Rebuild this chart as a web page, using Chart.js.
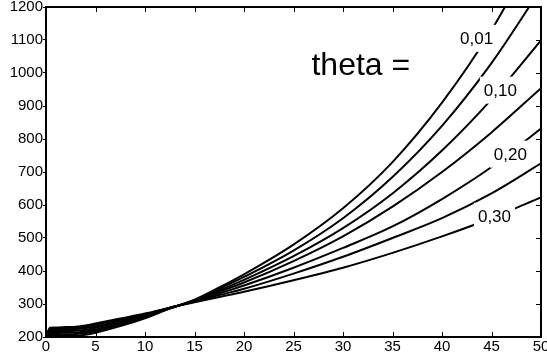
<!DOCTYPE html>
<html>
<head>
<meta charset="utf-8">
<style>
  html, body { margin: 0; padding: 0; background: #fff; }
  #wrap { width: 547px; height: 360px; }
</style>
</head>
<body>
<div id="wrap"><canvas id="myChart" width="547" height="360"></canvas></div>
<script src="https://cdn.jsdelivr.net/npm/chart.js@4.4.1/dist/chart.umd.min.js"></script>
<script>
// sample positions along x, shared by every curve
var xValues = [0, 0.4, 1, 2, 3, 4, 5, 7.5, 10, 12.5, 15, 17.5, 20, 25, 30, 35, 40, 45, 50];

// one curve per theta
var theta001 = [200, 203, 203, 203, 204, 207, 213, 233, 257, 286, 313, 350, 390, 480, 590, 730, 910, 1130, 1400];
var theta005 = [200, 207, 207, 208, 209, 212, 218, 237, 259, 287, 312, 346, 382, 462, 560, 685, 840, 1030, 1255];
var theta010 = [200, 212, 212, 213, 214, 217, 223, 241, 262, 287, 310, 341, 373, 445, 530, 635, 765, 920, 1099];
var theta015 = [200, 216, 216, 217, 219, 222, 228, 245, 264, 288, 309, 337, 365, 430, 505, 595, 700, 820, 954];
var theta020 = [200, 220, 220, 221, 223, 227, 232, 249, 266, 288, 308, 332, 356, 410, 470, 535, 618, 715, 832];
var theta025 = [200, 224, 224, 225, 227, 231, 237, 253, 269, 289, 307, 327, 346, 392, 443, 500, 560, 635, 726];
var theta030 = [200, 228, 229, 230, 231, 235, 241, 256, 271, 289, 305, 321, 337, 372, 410, 455, 505, 560, 623];

var thetaNames = ['0,01', '0,05', '0,10', '0,15', '0,20', '0,25', '0,30'];
var xTicks = [0, 5, 10, 15, 20, 25, 30, 35, 40, 45, 50];
var yTicks = [200, 300, 400, 500, 600, 700, 800, 900, 1000, 1100, 1200];

var FONT = '"Liberation Sans", Arial, Helvetica, sans-serif';

function toPoints(ys) {
  return xValues.map(function(x, i) { return { x: x, y: ys[i] }; });
}

// inline contour labels, with a white patch that breaks the line under the text
var curveLabels = {
  id: 'curveLabels',
  afterDatasetsDraw: function(chart, args, opts) {
    var ctx = chart.ctx;
    var xs = chart.scales.x, ys = chart.scales.y;
    ctx.save();
    ctx.textAlign = 'center';
    ctx.textBaseline = 'middle';
    opts.items.forEach(function(it) {
      ctx.font = it.size + 'px ' + FONT;
      var px = xs.getPixelForValue(it.x);
      var py = ys.getPixelForValue(it.y);
      var w = ctx.measureText(it.text).width;
      if (it.patch) {
        ctx.fillStyle = '#fff';
        ctx.fillRect(px - w / 2 - 4, py - it.size / 2 - 5, w + 8, it.size + 10);
      }
      ctx.fillStyle = '#000';
      ctx.fillText(it.text, px, py + 1);
    });
    ctx.restore();
  }
};

// top/right box edges and inward tick marks
var boxFrame = {
  id: 'boxFrame',
  afterDraw: function(chart) {
    var ctx = chart.ctx, a = chart.chartArea;
    var xs = chart.scales.x, ys = chart.scales.y;
    ctx.save();
    ctx.strokeStyle = '#000';
    ctx.lineWidth = 2;
    ctx.beginPath();
    ctx.moveTo(a.left, a.top);
    ctx.lineTo(a.right, a.top);
    ctx.lineTo(a.right, a.bottom);
    ctx.stroke();
    ctx.lineWidth = 1;
    ctx.beginPath();
    xTicks.forEach(function(v) {
      var px = Math.round(xs.getPixelForValue(v)) + 0.5;
      ctx.moveTo(px, a.bottom);
      ctx.lineTo(px, a.bottom - 5);
      ctx.moveTo(px, a.top);
      ctx.lineTo(px, a.top + 5);
    });
    yTicks.forEach(function(v) {
      var py = Math.round(ys.getPixelForValue(v)) + 0.5;
      ctx.moveTo(a.right, py);
      ctx.lineTo(a.right - 5, py);
    });
    ctx.stroke();
    ctx.restore();
  }
};

window.onload = function() {
  init();
};

function init() {
  var series = [theta001, theta005, theta010, theta015, theta020, theta025, theta030];
  var ctx = document.getElementById('myChart').getContext('2d');

  Chart.defaults.font.family = FONT;
  Chart.defaults.font.size = 15;
  Chart.defaults.color = '#000';

  var chart = new Chart(ctx, {
    type: 'line',
    data: {
      datasets: series.map(function(s, i) {
        return {
          label: thetaNames[i],
          data: toPoints(s),
          borderColor: '#000',
          borderWidth: 2,
          pointRadius: 0,
          fill: false,
          cubicInterpolationMode: 'monotone'
        };
      })
    },
    options: {
      responsive: false,
      animation: false,
      layout: { padding: { top: 7, right: 6, left: 0, bottom: 0 } },
      plugins: {
        legend: { display: false },
        tooltip: { enabled: false },
        curveLabels: {
          items: [
            { text: 'theta =', x: 31.8, y: 1025, size: 32, patch: false },
            { text: thetaNames[0], x: 43.5, y: 1105, size: 17, patch: true },
            { text: thetaNames[2], x: 45.9, y: 948, size: 17, patch: true },
            { text: thetaNames[4], x: 46.9, y: 754, size: 17, patch: true },
            { text: thetaNames[6], x: 45.3, y: 566, size: 17, patch: true }
          ]
        }
      },
      scales: {
        x: {
          type: 'linear',
          min: 0,
          max: 50,
          afterBuildTicks: function(scale) {
            scale.ticks = xTicks.map(function(v) { return { value: v }; });
          },
          afterFit: function(scale) {
            scale.height = 23;
            scale.paddingLeft = 0;
            scale.paddingRight = 0;
          },
          ticks: {
            padding: 1,
            maxRotation: 0,
            autoSkip: false,
            callback: function(v) { return String(v); }
          },
          grid: { drawOnChartArea: false, drawTicks: false },
          border: { display: true, color: '#000', width: 2 }
        },
        y: {
          type: 'linear',
          min: 200,
          max: 1200,
          afterBuildTicks: function(scale) {
            scale.ticks = yTicks.map(function(v) { return { value: v }; });
          },
          afterFit: function(scale) {
            scale.width = 46;
            scale.paddingTop = 0;
            scale.paddingBottom = 0;
          },
          ticks: {
            padding: 0,
            autoSkip: false,
            callback: function(v) { return String(v); }
          },
          grid: { drawOnChartArea: false, drawTicks: true, tickLength: 3, color: '#000' },
          border: { display: true, color: '#000', width: 2 }
        }
      }
    },
    plugins: [curveLabels, boxFrame]
  });
}
</script>
</body>
</html>
